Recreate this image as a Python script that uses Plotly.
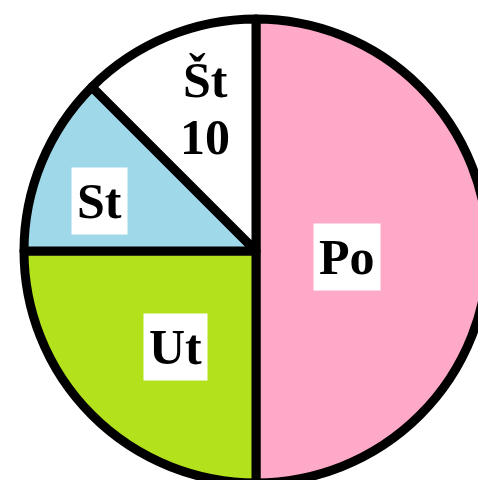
import math
import plotly.graph_objects as go

# --- data ---
labels = ["Po", "Ut", "St", "Št<br>10"]
values = [40, 20, 10, 10]
colors = ["#FFA9C9", "#B3E21C", "#9FD9E9", "#FFFFFF"]

# --- label styling (radius fraction, angular nudge in degrees, white box) ---
label_r = [0.393, 0.539, 0.707, 0.654]
label_dang = [3.8, -5.2, -4.6, 2.9]
label_box = [True, True, True, False]

W, H = 488, 485
ML, MR, MT, MB = 24, 0, 19, 2
PW, PH = W - ML - MR, H - MT - MB

fig = go.Figure(go.Pie(
    labels=labels,
    values=values,
    sort=False,
    direction="clockwise",
    rotation=0,
    marker=dict(colors=colors, line=dict(color="black", width=9)),
    textinfo="none",
    hoverinfo="label+value",
    showlegend=False,
))

total = sum(values)
cum = 0.0
annotations = []
FS = 50
LINE_PX = 57
for i, (lab, v) in enumerate(zip(labels, values)):
    mid = (cum + v / 2) / total * 360.0 + label_dang[i]
    cum += v
    th = math.radians(mid)
    xc = 0.5 + label_r[i] * 0.5 * math.sin(th)
    yc = 0.5 + label_r[i] * 0.5 * math.cos(th)
    lines = lab.split("<br>")
    n = len(lines)
    for j, ln in enumerate(lines):
        off = ((n - 1) / 2 - j) * LINE_PX / PH
        annotations.append(dict(
            x=xc, y=yc + off, xref="paper", yref="paper",
            text=ln, showarrow=False,
            font=dict(family="Liberation Serif", size=FS, color="black", weight="bold"),
            bgcolor="white" if label_box[i] else "rgba(0,0,0,0)",
            borderpad=5 if label_box[i] else 0,
            xanchor="center", yanchor="middle",
        ))

fig.update_layout(
    width=W, height=H, autosize=False,
    margin=dict(l=ML, r=MR, t=MT, b=MB),
    paper_bgcolor="white", plot_bgcolor="white",
    annotations=annotations,
)

fig.write_html(
    "out.html",
    config={"displayModeBar": False},
    post_script="document.body.style.margin='0';document.body.style.overflow='hidden';document.documentElement.style.overflow='hidden';",
)
